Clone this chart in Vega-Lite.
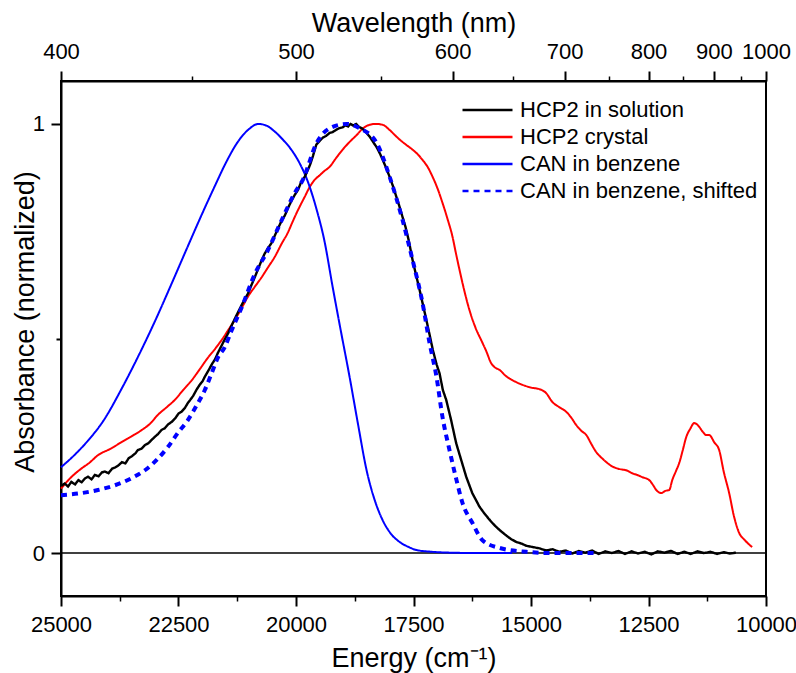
{
  "$schema": "https://vega.github.io/schema/vega-lite/v6.json",
  "width": 705,
  "height": 515,
  "autosize": {"type": "none"},
  "padding": {"left": 61, "top": 81, "right": 30, "bottom": 77},
  "background": "white",
  "config": {
    "font": "Liberation Sans",
    "view": {"stroke": "black", "strokeWidth": 2},
    "axis": {
      "labelFont": "Liberation Sans", "titleFont": "Liberation Sans",
      "labelColor": "black", "titleColor": "black", "domainColor": "black", "tickColor": "black",
      "grid": false, "labelFontSize": 22, "titleFontSize": 27, "titleFontWeight": "normal",
      "domainWidth": 2, "tickWidth": 2, "labelFlush": false, "labelOverlap": false
    },
    "legend": {
      "orient": "none", "legendX": 400, "legendY": 18, "title": null,
      "symbolType": "stroke", "symbolSize": 2500, "symbolStrokeWidth": 2.5,
      "labelFont": "Liberation Sans", "labelFontSize": 22, "labelColor": "black", "labelLimit": 0,
      "labelOffset": 6, "rowPadding": 5, "padding": 0, "clipHeight": 22
    }
  },
  "datasets": {
    "solid": [
      {"s":"HCP2 crystal","E":25000,"v":0.150},{"s":"HCP2 crystal","E":24800,"v":0.175},{"s":"HCP2 crystal","E":24554,"v":0.198},{"s":"HCP2 crystal","E":24400,"v":0.210},{"s":"HCP2 crystal","E":24214,"v":0.228},{"s":"HCP2 crystal","E":23950,"v":0.243},{"s":"HCP2 crystal","E":23704,"v":0.259},{"s":"HCP2 crystal","E":23500,"v":0.272},{"s":"HCP2 crystal","E":23279,"v":0.287},{"s":"HCP2 crystal","E":23100,"v":0.302},{"s":"HCP2 crystal","E":22939,"v":0.322},{"s":"HCP2 crystal","E":22750,"v":0.340},{"s":"HCP2 crystal","E":22578,"v":0.357},{"s":"HCP2 crystal","E":22400,"v":0.380},{"s":"HCP2 crystal","E":22216,"v":0.403},{"s":"HCP2 crystal","E":22050,"v":0.428},{"s":"HCP2 crystal","E":21876,"v":0.455},{"s":"HCP2 crystal","E":21720,"v":0.476},{"s":"HCP2 crystal","E":21579,"v":0.497},{"s":"HCP2 crystal","E":21440,"v":0.520},{"s":"HCP2 crystal","E":21303,"v":0.543},{"s":"HCP2 crystal","E":21160,"v":0.570},{"s":"HCP2 crystal","E":21026,"v":0.597},{"s":"HCP2 crystal","E":20880,"v":0.620},{"s":"HCP2 crystal","E":20729,"v":0.643},{"s":"HCP2 crystal","E":20600,"v":0.665},{"s":"HCP2 crystal","E":20453,"v":0.690},{"s":"HCP2 crystal","E":20300,"v":0.722},{"s":"HCP2 crystal","E":20176,"v":0.746},{"s":"HCP2 crystal","E":20080,"v":0.770},{"s":"HCP2 crystal","E":19985,"v":0.793},{"s":"HCP2 crystal","E":19900,"v":0.812},{"s":"HCP2 crystal","E":19815,"v":0.830},{"s":"HCP2 crystal","E":19709,"v":0.853},{"s":"HCP2 crystal","E":19600,"v":0.870},{"s":"HCP2 crystal","E":19500,"v":0.880},{"s":"HCP2 crystal","E":19400,"v":0.890},{"s":"HCP2 crystal","E":19284,"v":0.900},{"s":"HCP2 crystal","E":19150,"v":0.920},{"s":"HCP2 crystal","E":19008,"v":0.940},{"s":"HCP2 crystal","E":18860,"v":0.958},{"s":"HCP2 crystal","E":18710,"v":0.974},{"s":"HCP2 crystal","E":18570,"v":0.990},{"s":"HCP2 crystal","E":18434,"v":0.998},{"s":"HCP2 crystal","E":18300,"v":1.0},{"s":"HCP2 crystal","E":18158,"v":0.998},{"s":"HCP2 crystal","E":18000,"v":0.985},{"s":"HCP2 crystal","E":17860,"v":0.970},{"s":"HCP2 crystal","E":17700,"v":0.955},{"s":"HCP2 crystal","E":17520,"v":0.940},{"s":"HCP2 crystal","E":17400,"v":0.928},{"s":"HCP2 crystal","E":17308,"v":0.916},{"s":"HCP2 crystal","E":17200,"v":0.900},{"s":"HCP2 crystal","E":17095,"v":0.877},{"s":"HCP2 crystal","E":16990,"v":0.850},{"s":"HCP2 crystal","E":16883,"v":0.816},{"s":"HCP2 crystal","E":16780,"v":0.780},{"s":"HCP2 crystal","E":16670,"v":0.737},{"s":"HCP2 crystal","E":16600,"v":0.700},{"s":"HCP2 crystal","E":16521,"v":0.660},{"s":"HCP2 crystal","E":16420,"v":0.612},{"s":"HCP2 crystal","E":16309,"v":0.566},{"s":"HCP2 crystal","E":16180,"v":0.525},{"s":"HCP2 crystal","E":16033,"v":0.490},{"s":"HCP2 crystal","E":15950,"v":0.470},{"s":"HCP2 crystal","E":15850,"v":0.443},{"s":"HCP2 crystal","E":15760,"v":0.432},{"s":"HCP2 crystal","E":15671,"v":0.427},{"s":"HCP2 crystal","E":15540,"v":0.413},{"s":"HCP2 crystal","E":15395,"v":0.403},{"s":"HCP2 crystal","E":15180,"v":0.392},{"s":"HCP2 crystal","E":14970,"v":0.385},{"s":"HCP2 crystal","E":14821,"v":0.382},{"s":"HCP2 crystal","E":14680,"v":0.373},{"s":"HCP2 crystal","E":14545,"v":0.352},{"s":"HCP2 crystal","E":14400,"v":0.340},{"s":"HCP2 crystal","E":14248,"v":0.329},{"s":"HCP2 crystal","E":14140,"v":0.315},{"s":"HCP2 crystal","E":14035,"v":0.298},{"s":"HCP2 crystal","E":13930,"v":0.285},{"s":"HCP2 crystal","E":13823,"v":0.275},{"s":"HCP2 crystal","E":13720,"v":0.255},{"s":"HCP2 crystal","E":13610,"v":0.235},{"s":"HCP2 crystal","E":13500,"v":0.222},{"s":"HCP2 crystal","E":13398,"v":0.212},{"s":"HCP2 crystal","E":13290,"v":0.203},{"s":"HCP2 crystal","E":13185,"v":0.198},{"s":"HCP2 crystal","E":13080,"v":0.195},{"s":"HCP2 crystal","E":12973,"v":0.193},{"s":"HCP2 crystal","E":12845,"v":0.186},{"s":"HCP2 crystal","E":12740,"v":0.182},{"s":"HCP2 crystal","E":12633,"v":0.177},{"s":"HCP2 crystal","E":12484,"v":0.170},{"s":"HCP2 crystal","E":12400,"v":0.158},{"s":"HCP2 crystal","E":12335,"v":0.147},{"s":"HCP2 crystal","E":12229,"v":0.140},{"s":"HCP2 crystal","E":12140,"v":0.145},{"s":"HCP2 crystal","E":12059,"v":0.147},{"s":"HCP2 crystal","E":11995,"v":0.170},{"s":"HCP2 crystal","E":11920,"v":0.190},{"s":"HCP2 crystal","E":11846,"v":0.210},{"s":"HCP2 crystal","E":11770,"v":0.240},{"s":"HCP2 crystal","E":11698,"v":0.270},{"s":"HCP2 crystal","E":11610,"v":0.290},{"s":"HCP2 crystal","E":11528,"v":0.303},{"s":"HCP2 crystal","E":11470,"v":0.300},{"s":"HCP2 crystal","E":11421,"v":0.294},{"s":"HCP2 crystal","E":11340,"v":0.282},{"s":"HCP2 crystal","E":11273,"v":0.275},{"s":"HCP2 crystal","E":11209,"v":0.275},{"s":"HCP2 crystal","E":11100,"v":0.258},{"s":"HCP2 crystal","E":10996,"v":0.240},{"s":"HCP2 crystal","E":10900,"v":0.190},{"s":"HCP2 crystal","E":10784,"v":0.140},{"s":"HCP2 crystal","E":10680,"v":0.085},{"s":"HCP2 crystal","E":10571,"v":0.047},{"s":"HCP2 crystal","E":10450,"v":0.030},{"s":"HCP2 crystal","E":10295,"v":0.014},
      {"s":"CAN in benzene","E":25000,"v":0.200},{"s":"CAN in benzene","E":24700,"v":0.230},{"s":"CAN in benzene","E":24426,"v":0.262},{"s":"CAN in benzene","E":24100,"v":0.308},{"s":"CAN in benzene","E":23710,"v":0.383},{"s":"CAN in benzene","E":23350,"v":0.460},{"s":"CAN in benzene","E":23002,"v":0.540},{"s":"CAN in benzene","E":22650,"v":0.627},{"s":"CAN in benzene","E":22301,"v":0.715},{"s":"CAN in benzene","E":22000,"v":0.790},{"s":"CAN in benzene","E":21728,"v":0.855},{"s":"CAN in benzene","E":21480,"v":0.912},{"s":"CAN in benzene","E":21239,"v":0.958},{"s":"CAN in benzene","E":21000,"v":0.988},{"s":"CAN in benzene","E":20800,"v":1.0},{"s":"CAN in benzene","E":20629,"v":0.996},{"s":"CAN in benzene","E":20450,"v":0.982},{"s":"CAN in benzene","E":20276,"v":0.963},{"s":"CAN in benzene","E":20100,"v":0.940},{"s":"CAN in benzene","E":19921,"v":0.908},{"s":"CAN in benzene","E":19750,"v":0.866},{"s":"CAN in benzene","E":19560,"v":0.800},{"s":"CAN in benzene","E":19400,"v":0.730},{"s":"CAN in benzene","E":19220,"v":0.620},{"s":"CAN in benzene","E":19050,"v":0.520},{"s":"CAN in benzene","E":18859,"v":0.410},{"s":"CAN in benzene","E":18680,"v":0.300},{"s":"CAN in benzene","E":18498,"v":0.193},{"s":"CAN in benzene","E":18330,"v":0.125},{"s":"CAN in benzene","E":18158,"v":0.077},{"s":"CAN in benzene","E":17980,"v":0.045},{"s":"CAN in benzene","E":17796,"v":0.026},{"s":"CAN in benzene","E":17600,"v":0.014},{"s":"CAN in benzene","E":17435,"v":0.007},{"s":"CAN in benzene","E":17100,"v":0.003},{"s":"CAN in benzene","E":16734,"v":0.001},{"s":"CAN in benzene","E":16000,"v":0.0},{"s":"CAN in benzene","E":15400,"v":0.0}
    ],
    "solution": [
      {"s":"HCP2 in solution","E":24990,"v":0.157},{"s":"HCP2 in solution","E":24920,"v":0.162},{"s":"HCP2 in solution","E":24850,"v":0.155},{"s":"HCP2 in solution","E":24780,"v":0.166},{"s":"HCP2 in solution","E":24700,"v":0.160},{"s":"HCP2 in solution","E":24630,"v":0.170},{"s":"HCP2 in solution","E":24560,"v":0.165},{"s":"HCP2 in solution","E":24490,"v":0.174},{"s":"HCP2 in solution","E":24426,"v":0.178},{"s":"HCP2 in solution","E":24350,"v":0.172},{"s":"HCP2 in solution","E":24280,"v":0.182},{"s":"HCP2 in solution","E":24200,"v":0.179},{"s":"HCP2 in solution","E":24130,"v":0.188},{"s":"HCP2 in solution","E":24065,"v":0.190},{"s":"HCP2 in solution","E":23990,"v":0.186},{"s":"HCP2 in solution","E":23910,"v":0.197},{"s":"HCP2 in solution","E":23840,"v":0.200},{"s":"HCP2 in solution","E":23770,"v":0.205},{"s":"HCP2 in solution","E":23704,"v":0.212},{"s":"HCP2 in solution","E":23630,"v":0.209},{"s":"HCP2 in solution","E":23560,"v":0.221},{"s":"HCP2 in solution","E":23490,"v":0.226},{"s":"HCP2 in solution","E":23420,"v":0.232},{"s":"HCP2 in solution","E":23364,"v":0.240},{"s":"HCP2 in solution","E":23290,"v":0.243},{"s":"HCP2 in solution","E":23210,"v":0.252},{"s":"HCP2 in solution","E":23140,"v":0.256},{"s":"HCP2 in solution","E":23070,"v":0.264},{"s":"HCP2 in solution","E":23003,"v":0.271},{"s":"HCP2 in solution","E":22930,"v":0.278},{"s":"HCP2 in solution","E":22860,"v":0.287},{"s":"HCP2 in solution","E":22790,"v":0.291},{"s":"HCP2 in solution","E":22720,"v":0.300},{"s":"HCP2 in solution","E":22641,"v":0.306},{"s":"HCP2 in solution","E":22570,"v":0.314},{"s":"HCP2 in solution","E":22500,"v":0.325},{"s":"HCP2 in solution","E":22430,"v":0.330},{"s":"HCP2 in solution","E":22365,"v":0.338},{"s":"HCP2 in solution","E":22300,"v":0.350},{"s":"HCP2 in solution","E":22250,"v":0.357},{"s":"HCP2 in solution","E":22190,"v":0.366},{"s":"HCP2 in solution","E":22120,"v":0.380},{"s":"HCP2 in solution","E":22050,"v":0.392},{"s":"HCP2 in solution","E":21990,"v":0.400},{"s":"HCP2 in solution","E":21940,"v":0.411},{"s":"HCP2 in solution","E":21860,"v":0.426},{"s":"HCP2 in solution","E":21790,"v":0.440},{"s":"HCP2 in solution","E":21720,"v":0.452},{"s":"HCP2 in solution","E":21664,"v":0.466},{"s":"HCP2 in solution","E":21590,"v":0.482},{"s":"HCP2 in solution","E":21520,"v":0.497},{"s":"HCP2 in solution","E":21445,"v":0.512},{"s":"HCP2 in solution","E":21380,"v":0.528},{"s":"HCP2 in solution","E":21310,"v":0.544},{"s":"HCP2 in solution","E":21239,"v":0.560},{"s":"HCP2 in solution","E":21170,"v":0.575},{"s":"HCP2 in solution","E":21100,"v":0.590},{"s":"HCP2 in solution","E":21020,"v":0.605},{"s":"HCP2 in solution","E":20950,"v":0.624},{"s":"HCP2 in solution","E":20880,"v":0.642},{"s":"HCP2 in solution","E":20814,"v":0.660},{"s":"HCP2 in solution","E":20740,"v":0.680},{"s":"HCP2 in solution","E":20670,"v":0.697},{"s":"HCP2 in solution","E":20600,"v":0.710},{"s":"HCP2 in solution","E":20523,"v":0.722},{"s":"HCP2 in solution","E":20450,"v":0.740},{"s":"HCP2 in solution","E":20380,"v":0.757},{"s":"HCP2 in solution","E":20304,"v":0.775},{"s":"HCP2 in solution","E":20240,"v":0.786},{"s":"HCP2 in solution","E":20170,"v":0.804},{"s":"HCP2 in solution","E":20100,"v":0.820},{"s":"HCP2 in solution","E":20030,"v":0.834},{"s":"HCP2 in solution","E":19958,"v":0.846},{"s":"HCP2 in solution","E":19900,"v":0.862},{"s":"HCP2 in solution","E":19850,"v":0.870},{"s":"HCP2 in solution","E":19800,"v":0.880},{"s":"HCP2 in solution","E":19751,"v":0.892},{"s":"HCP2 in solution","E":19700,"v":0.905},{"s":"HCP2 in solution","E":19640,"v":0.925},{"s":"HCP2 in solution","E":19567,"v":0.952},{"s":"HCP2 in solution","E":19500,"v":0.960},{"s":"HCP2 in solution","E":19430,"v":0.968},{"s":"HCP2 in solution","E":19360,"v":0.972},{"s":"HCP2 in solution","E":19284,"v":0.979},{"s":"HCP2 in solution","E":19220,"v":0.981},{"s":"HCP2 in solution","E":19150,"v":0.986},{"s":"HCP2 in solution","E":19080,"v":0.990},{"s":"HCP2 in solution","E":19008,"v":0.992},{"s":"HCP2 in solution","E":18950,"v":0.997},{"s":"HCP2 in solution","E":18890,"v":0.994},{"s":"HCP2 in solution","E":18840,"v":1.0},{"s":"HCP2 in solution","E":18780,"v":0.996},{"s":"HCP2 in solution","E":18720,"v":1.0},{"s":"HCP2 in solution","E":18660,"v":0.993},{"s":"HCP2 in solution","E":18600,"v":0.990},{"s":"HCP2 in solution","E":18540,"v":0.984},{"s":"HCP2 in solution","E":18498,"v":0.979},{"s":"HCP2 in solution","E":18430,"v":0.970},{"s":"HCP2 in solution","E":18360,"v":0.958},{"s":"HCP2 in solution","E":18285,"v":0.946},{"s":"HCP2 in solution","E":18210,"v":0.930},{"s":"HCP2 in solution","E":18150,"v":0.915},{"s":"HCP2 in solution","E":18080,"v":0.897},{"s":"HCP2 in solution","E":18009,"v":0.877},{"s":"HCP2 in solution","E":17940,"v":0.856},{"s":"HCP2 in solution","E":17870,"v":0.832},{"s":"HCP2 in solution","E":17800,"v":0.808},{"s":"HCP2 in solution","E":17733,"v":0.783},{"s":"HCP2 in solution","E":17670,"v":0.760},{"s":"HCP2 in solution","E":17600,"v":0.728},{"s":"HCP2 in solution","E":17520,"v":0.683},{"s":"HCP2 in solution","E":17450,"v":0.650},{"s":"HCP2 in solution","E":17380,"v":0.618},{"s":"HCP2 in solution","E":17308,"v":0.583},{"s":"HCP2 in solution","E":17240,"v":0.550},{"s":"HCP2 in solution","E":17160,"v":0.510},{"s":"HCP2 in solution","E":17088,"v":0.473},{"s":"HCP2 in solution","E":17010,"v":0.440},{"s":"HCP2 in solution","E":16946,"v":0.419},{"s":"HCP2 in solution","E":16876,"v":0.380},{"s":"HCP2 in solution","E":16804,"v":0.357},{"s":"HCP2 in solution","E":16700,"v":0.310},{"s":"HCP2 in solution","E":16592,"v":0.256},{"s":"HCP2 in solution","E":16480,"v":0.215},{"s":"HCP2 in solution","E":16379,"v":0.178},{"s":"HCP2 in solution","E":16250,"v":0.140},{"s":"HCP2 in solution","E":16096,"v":0.108},{"s":"HCP2 in solution","E":15990,"v":0.092},{"s":"HCP2 in solution","E":15900,"v":0.080},{"s":"HCP2 in solution","E":15820,"v":0.070},{"s":"HCP2 in solution","E":15741,"v":0.061},{"s":"HCP2 in solution","E":15650,"v":0.052},{"s":"HCP2 in solution","E":15550,"v":0.043},{"s":"HCP2 in solution","E":15430,"v":0.033},{"s":"HCP2 in solution","E":15316,"v":0.026},{"s":"HCP2 in solution","E":15200,"v":0.022},{"s":"HCP2 in solution","E":15100,"v":0.017},{"s":"HCP2 in solution","E":14960,"v":0.014},{"s":"HCP2 in solution","E":14820,"v":0.011},{"s":"HCP2 in solution","E":14680,"v":0.006},{"s":"HCP2 in solution","E":14540,"v":0.009},{"s":"HCP2 in solution","E":14400,"v":0.003},{"s":"HCP2 in solution","E":14260,"v":0.006},{"s":"HCP2 in solution","E":14120,"v":-0.001},{"s":"HCP2 in solution","E":13980,"v":0.005},{"s":"HCP2 in solution","E":13840,"v":0.001},{"s":"HCP2 in solution","E":13700,"v":0.006},{"s":"HCP2 in solution","E":13560,"v":-0.002},{"s":"HCP2 in solution","E":13420,"v":0.004},{"s":"HCP2 in solution","E":13280,"v":0.0},{"s":"HCP2 in solution","E":13140,"v":0.005},{"s":"HCP2 in solution","E":13000,"v":-0.002},{"s":"HCP2 in solution","E":12860,"v":0.004},{"s":"HCP2 in solution","E":12720,"v":-0.001},{"s":"HCP2 in solution","E":12580,"v":0.003},{"s":"HCP2 in solution","E":12440,"v":-0.003},{"s":"HCP2 in solution","E":12300,"v":0.004},{"s":"HCP2 in solution","E":12160,"v":0.001},{"s":"HCP2 in solution","E":12020,"v":0.005},{"s":"HCP2 in solution","E":11880,"v":-0.002},{"s":"HCP2 in solution","E":11740,"v":0.003},{"s":"HCP2 in solution","E":11600,"v":-0.002},{"s":"HCP2 in solution","E":11460,"v":0.004},{"s":"HCP2 in solution","E":11320,"v":0.0},{"s":"HCP2 in solution","E":11180,"v":0.003},{"s":"HCP2 in solution","E":11040,"v":-0.002},{"s":"HCP2 in solution","E":10900,"v":0.002},{"s":"HCP2 in solution","E":10770,"v":-0.001},{"s":"HCP2 in solution","E":10640,"v":0.001}
    ],
    "shifted": [
      {"s":"CAN in benzene, shifted","E":25000,"v":0.135},{"s":"CAN in benzene, shifted","E":24554,"v":0.140},{"s":"CAN in benzene, shifted","E":24214,"v":0.147},{"s":"CAN in benzene, shifted","E":23853,"v":0.158},{"s":"CAN in benzene, shifted","E":23491,"v":0.175},{"s":"CAN in benzene, shifted","E":23215,"v":0.193},{"s":"CAN in benzene, shifted","E":22939,"v":0.220},{"s":"CAN in benzene, shifted","E":22726,"v":0.247},{"s":"CAN in benzene, shifted","E":22514,"v":0.280},{"s":"CAN in benzene, shifted","E":22301,"v":0.310},{"s":"CAN in benzene, shifted","E":22110,"v":0.345},{"s":"CAN in benzene, shifted","E":21940,"v":0.380},{"s":"CAN in benzene, shifted","E":21791,"v":0.420},{"s":"CAN in benzene, shifted","E":21664,"v":0.455},{"s":"CAN in benzene, shifted","E":21515,"v":0.480},{"s":"CAN in benzene, shifted","E":21366,"v":0.520},{"s":"CAN in benzene, shifted","E":21154,"v":0.573},{"s":"CAN in benzene, shifted","E":20878,"v":0.650},{"s":"CAN in benzene, shifted","E":20601,"v":0.705},{"s":"CAN in benzene, shifted","E":20304,"v":0.776},{"s":"CAN in benzene, shifted","E":20028,"v":0.839},{"s":"CAN in benzene, shifted","E":19858,"v":0.869},{"s":"CAN in benzene, shifted","E":19560,"v":0.956},{"s":"CAN in benzene, shifted","E":19220,"v":0.993},{"s":"CAN in benzene, shifted","E":18923,"v":1.0},{"s":"CAN in benzene, shifted","E":18646,"v":0.990},{"s":"CAN in benzene, shifted","E":18285,"v":0.956},{"s":"CAN in benzene, shifted","E":18009,"v":0.877},{"s":"CAN in benzene, shifted","E":17733,"v":0.776},{"s":"CAN in benzene, shifted","E":17520,"v":0.683},{"s":"CAN in benzene, shifted","E":17308,"v":0.583},{"s":"CAN in benzene, shifted","E":17159,"v":0.490},{"s":"CAN in benzene, shifted","E":17010,"v":0.410},{"s":"CAN in benzene, shifted","E":16883,"v":0.317},{"s":"CAN in benzene, shifted","E":16734,"v":0.240},{"s":"CAN in benzene, shifted","E":16585,"v":0.170},{"s":"CAN in benzene, shifted","E":16458,"v":0.117},{"s":"CAN in benzene, shifted","E":16245,"v":0.070},{"s":"CAN in benzene, shifted","E":16033,"v":0.030},{"s":"CAN in benzene, shifted","E":15671,"v":0.012},{"s":"CAN in benzene, shifted","E":15098,"v":0.003},{"s":"CAN in benzene, shifted","E":14500,"v":0.0},{"s":"CAN in benzene, shifted","E":13610,"v":0.0}
    ],
    "anchor": [{"E": 25000, "v": 0}]
  },
  "layer": [
    {
      "data": {"values": [{"v": 0}]},
      "mark": {"type": "rule", "color": "black", "strokeWidth": 1.5},
      "encoding": {
        "y": {"field": "v", "type": "quantitative",
          "scale": {"domain": [-0.1, 1.1], "nice": false, "zero": false},
          "axis": {"orient": "left", "values": [0.5], "labels": false, "tickSize": 5, "domain": false, "title": null}}
      }
    },
    {
      "data": {"name": "solid"},
      "mark": {"type": "line", "strokeWidth": 2, "interpolate": "monotone"},
      "encoding": {
        "x": {"field": "E", "type": "quantitative",
          "scale": {"domain": [10000, 25000], "reverse": true, "nice": false, "zero": false},
          "axis": {"orient": "bottom", "values": [25000, 22500, 20000, 17500, 15000, 12500, 10000], "format": "d",
            "tickSize": 10, "labelPadding": 25.7, "labelBaseline": "alphabetic",
            "title": "Energy (cm⁻¹)", "titleX": 352.5, "titleY": 70, "titleBaseline": "alphabetic"}},
        "y": {"field": "v", "type": "quantitative",
          "scale": {"domain": [-0.1, 1.1], "nice": false, "zero": false},
          "axis": {"orient": "left", "values": [0, 1], "format": "d", "tickSize": 10, "labelPadding": 6.5,
            "title": "Absorbance (normalized)", "titleX": -27.7, "titleY": 240.5, "titleBaseline": "alphabetic"}},
        "color": {"field": "s", "type": "nominal",
          "scale": {"domain": ["HCP2 in solution", "HCP2 crystal", "CAN in benzene", "CAN in benzene, shifted"],
            "range": ["#000000", "#ff0000", "#0000ff", "#0000ff"]},
          "legend": {"orient": "none", "legendX": 400, "legendY": 18, "title": null, "labelLimit": 0}},
        "strokeDash": {"field": "s", "type": "nominal",
          "scale": {"domain": ["HCP2 in solution", "HCP2 crystal", "CAN in benzene", "CAN in benzene, shifted"],
            "range": [[1, 0], [1, 0], [1, 0], [6, 5]]},
          "legend": {"orient": "none", "legendX": 400, "legendY": 18, "title": null, "labelLimit": 0}}
      }
    },
    {
      "data": {"name": "solution"},
      "mark": {"type": "line", "strokeWidth": 2.4},
      "encoding": {
        "x": {"field": "E", "type": "quantitative",
          "scale": {"domain": [10000, 25000], "reverse": true, "nice": false, "zero": false}, "axis": null},
        "y": {"field": "v", "type": "quantitative",
          "scale": {"domain": [-0.1, 1.1], "nice": false, "zero": false}, "axis": null},
        "color": {"field": "s", "type": "nominal",
          "scale": {"domain": ["HCP2 in solution", "HCP2 crystal", "CAN in benzene", "CAN in benzene, shifted"],
            "range": ["#000000", "#ff0000", "#0000ff", "#0000ff"]}},
        "strokeDash": {"field": "s", "type": "nominal",
          "scale": {"domain": ["HCP2 in solution", "HCP2 crystal", "CAN in benzene", "CAN in benzene, shifted"],
            "range": [[1, 0], [1, 0], [1, 0], [6, 5]]}}
      }
    },
    {
      "data": {"name": "shifted"},
      "mark": {"type": "line", "strokeWidth": 4, "interpolate": "monotone"},
      "encoding": {
        "x": {"field": "E", "type": "quantitative",
          "scale": {"domain": [10000, 25000], "reverse": true, "nice": false, "zero": false},
          "axis": {"orient": "top", "values": [25000, 20000, 16666.6667, 14285.7143, 12500, 11111.1111, 10000],
            "labelExpr": "format(1e7/datum.value, 'd')", "tickSize": 10, "labelPadding": 12.7, "labelBaseline": "alphabetic",
            "title": "Wavelength (nm)", "titleX": 352.5, "titleY": -49.3, "titleBaseline": "alphabetic"}},
        "y": {"field": "v", "type": "quantitative",
          "scale": {"domain": [-0.1, 1.1], "nice": false, "zero": false}, "axis": null},
        "color": {"field": "s", "type": "nominal",
          "scale": {"domain": ["HCP2 in solution", "HCP2 crystal", "CAN in benzene", "CAN in benzene, shifted"],
            "range": ["#000000", "#ff0000", "#0000ff", "#0000ff"]}},
        "strokeDash": {"field": "s", "type": "nominal",
          "scale": {"domain": ["HCP2 in solution", "HCP2 crystal", "CAN in benzene", "CAN in benzene, shifted"],
            "range": [[1, 0], [1, 0], [1, 0], [6, 5]]}}
      }
    },
    {
      "data": {"name": "anchor"},
      "mark": {"type": "point", "opacity": 0},
      "encoding": {
        "x": {"field": "E", "type": "quantitative",
          "scale": {"domain": [10000, 25000], "reverse": true, "nice": false, "zero": false},
          "axis": {"orient": "bottom", "values": [23750, 21250, 18750, 16250, 13750, 11250], "labels": false,
            "tickSize": 5, "tickWidth": 1.5, "domain": false, "title": null}},
        "y": {"field": "v", "type": "quantitative",
          "scale": {"domain": [-0.1, 1.1], "nice": false, "zero": false}, "axis": null}
      }
    },
    {
      "data": {"name": "anchor"},
      "mark": {"type": "point", "opacity": 0},
      "encoding": {
        "x": {"field": "E", "type": "quantitative",
          "scale": {"domain": [10000, 25000], "reverse": true, "nice": false, "zero": false},
          "axis": {"orient": "top", "values": [22222.2222, 18181.8182, 15384.6154, 13333.3333, 11764.7059, 10526.3158], "labels": false,
            "tickSize": 5, "tickWidth": 1.5, "domain": false, "title": null}},
        "y": {"field": "v", "type": "quantitative",
          "scale": {"domain": [-0.1, 1.1], "nice": false, "zero": false}, "axis": null}
      }
    }
  ],
  "resolve": {"axis": {"x": "independent", "y": "independent"}}
}
